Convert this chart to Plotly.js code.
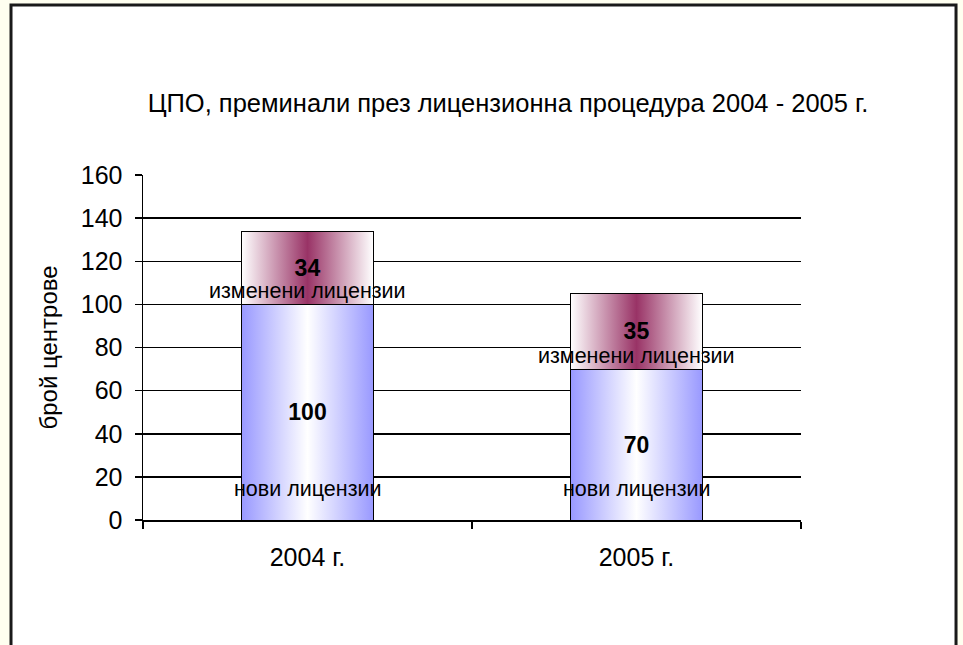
<!DOCTYPE html>
<html>
<head>
<meta charset="utf-8">
<script src="https://cdn.plot.ly/plotly-3.0.1.min.js"></script>
<style>
  html, body { margin: 0; padding: 0; background: #FFFFF0; }
  #chart { width: 963px; height: 645px; }
</style>
</head>
<body>
<div id="chart"></div>
<script>
// Centres that passed the licensing procedure, by year
const years = ['2004 г.', '2005 г.'];
const newLicences = [100, 70];
const changedLicences = [34, 35];
const newName = 'нови лицензии';
const changedName = 'изменени лицензии';
const yTicks = [0, 20, 40, 60, 80, 100, 120, 140, 160];
const gridTicks = [20, 40, 60, 80, 100, 120, 140];

const FONT = 'Liberation Sans, Arial, sans-serif';
const TICK_SIZE = 25;

const barCommon = {
  type: 'bar',
  x: years,
  textposition: 'inside',
  insidetextanchor: 'middle',
  constraintext: 'none',
  textangle: 0,
  textfont: { family: FONT, size: 23, color: '#000', weight: 'bold' },
  hoverinfo: 'skip',
  showlegend: false
};

const traces = [
  Object.assign({}, barCommon, {
    name: newName,
    y: newLicences,
    text: newLicences.map(String),
    marker: { color: '#9999FF', line: { color: '#000', width: 1 } }
  }),
  Object.assign({}, barCommon, {
    name: changedName,
    y: changedLicences,
    text: changedLicences.map(String),
    marker: { color: '#993366', line: { color: '#000', width: 1 } }
  })
];

// series-name labels under the value labels
const annotations = [];
years.forEach((yr, i) => {
  annotations.push({
    x: yr, y: 14.5, xref: 'x', yref: 'y', text: newName, showarrow: false,
    font: { family: FONT, size: 21.5, color: '#000' }
  });
  annotations.push({
    x: yr, y: newLicences[i] + 6, xref: 'x', yref: 'y', text: changedName, showarrow: false,
    font: { family: FONT, size: 21.5, color: '#000' }
  });
});

const layout = {
  width: 963,
  height: 645,
  margin: { l: 143, r: 162, t: 175, b: 125 },
  paper_bgcolor: '#FFFFF0',
  plot_bgcolor: 'rgba(0,0,0,0)',
  barmode: 'stack',
  bargap: 0.6,
  font: { family: FONT, color: '#000' },
  title: {
    text: 'ЦПО, преминали през лицензионна процедура 2004 - 2005 г.',
    font: { family: FONT, size: 25.5, color: '#000' },
    x: 0.5275, xref: 'container', xanchor: 'center',
    y: 0.840, yref: 'container', yanchor: 'middle'
  },
  xaxis: {
    type: 'category',
    showgrid: false,
    showline: true, linecolor: '#000', linewidth: 1.5,
    ticks: 'outside', tickson: 'boundaries', ticklen: 7, tickcolor: '#000', tickwidth: 1.5,
    tickfont: { family: FONT, size: TICK_SIZE, color: '#000' },
    ticklabelstandoff: 14,
    zeroline: false, fixedrange: true
  },
  yaxis: {
    range: [0, 160],
    tickvals: yTicks,
    showgrid: false,
    showline: true, linecolor: '#000', linewidth: 1.5,
    ticks: 'outside', ticklen: 7, tickcolor: '#000', tickwidth: 1.5,
    tickfont: { family: FONT, size: TICK_SIZE, color: '#000' },
    ticklabelstandoff: 7,
    zeroline: false, fixedrange: true,
    title: { text: 'брой центрове', font: { family: FONT, size: 24, color: '#000' }, standoff: 16 }
  },
  yaxis2: {
    overlaying: 'y', matches: 'y',
    range: [0, 160],
    tickvals: gridTicks,
    showgrid: true, gridcolor: '#000', gridwidth: 1.5,
    showticklabels: false, ticks: '', showline: false, zeroline: false, fixedrange: true
  },
  shapes: [{
    type: 'rect', xref: 'paper', yref: 'paper', layer: 'below',
    x0: -0.2006, x1: 1.2356, y0: -0.45, y1: 1.4928,
    fillcolor: '#FFFFFF', line: { color: '#1a1a1a', width: 3 }
  }],
  annotations: annotations
};

// empty trace so the grid axis is drawn
traces.unshift({ type: 'scatter', x: [years[0]], y: [null], yaxis: 'y2', hoverinfo: 'skip', showlegend: false });

Plotly.newPlot('chart', traces, layout, { staticPlot: true, displayModeBar: false }).then(gd => {
  // horizontal two-colour gradients for the bar fills
  const svg = gd.querySelector('.main-svg');
  const NS = 'http://www.w3.org/2000/svg';
  let defs = svg.querySelector('defs');
  if (!defs) { defs = document.createElementNS(NS, 'defs'); svg.insertBefore(defs, svg.firstChild); }
  function gradient(id, edge, mid) {
    const g = document.createElementNS(NS, 'linearGradient');
    g.setAttribute('id', id);
    g.setAttribute('x1', '0'); g.setAttribute('x2', '1');
    g.setAttribute('y1', '0'); g.setAttribute('y2', '0');
    [[0, edge], [0.5, mid], [1, edge]].forEach(([o, c]) => {
      const s = document.createElementNS(NS, 'stop');
      s.setAttribute('offset', o);
      s.setAttribute('stop-color', c);
      g.appendChild(s);
    });
    defs.appendChild(g);
  }
  gradient('gradNew', '#9999FF', '#FFFFFF');
  gradient('gradChanged', '#FFFFFF', '#993366');
  const barTraces = gd.querySelectorAll('.barlayer .trace');
  const fills = ['url(#gradNew)', 'url(#gradChanged)'];
  barTraces.forEach((t, i) => {
    t.querySelectorAll('.point path').forEach(p => { p.style.fill = fills[i]; });
  });
});
</script>
</body>
</html>
